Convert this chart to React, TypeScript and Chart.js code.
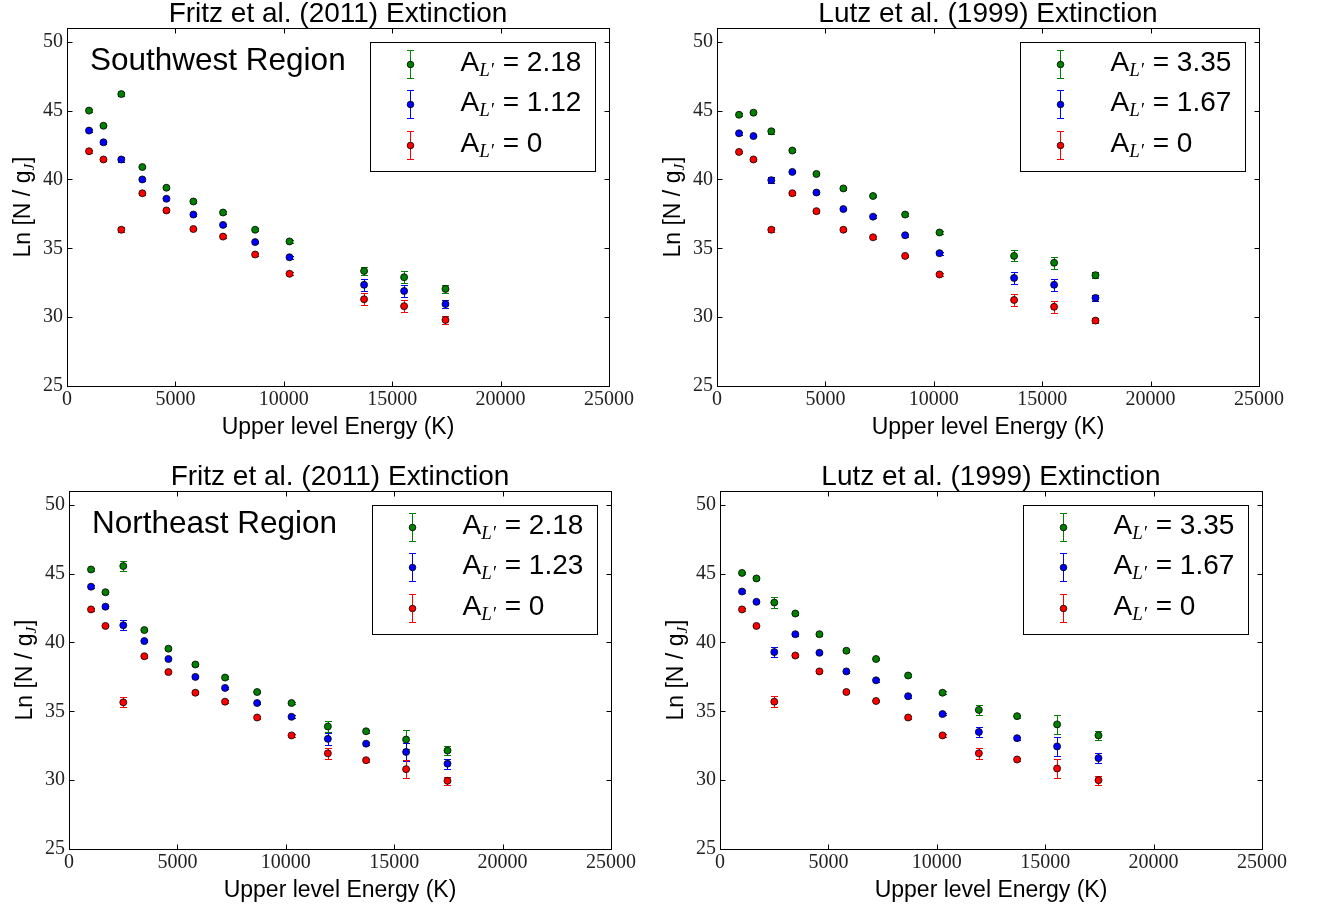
import React, { useEffect, useRef } from "react";
import { Chart, registerables } from "chart.js";

Chart.register(...registerables);

// ---------- data ----------
const energiesTop = [1015, 1682, 2504, 3474, 4586, 5829, 7197, 8677, 10263, 13703, 15549, 17458];
const energiesBottom = [1015, 1682, 2504, 3474, 4586, 5829, 7197, 8677, 10263, 11940, 13703, 15549, 17458];

const xTickValues = [0, 5000, 10000, 15000, 20000, 25000];
const yTickValues = [25, 30, 35, 40, 45, 50];

// Panel 1: Southwest, Fritz et al. (2011)
const swFritzHigh = [45.0, 43.9, 46.2, 40.9, 39.4, 38.4, 37.6, 36.35, 35.5, 33.35, 32.9, 32.05];
const swFritzMid = [43.55, 42.7, 41.45, 40.0, 38.6, 37.45, 36.7, 35.45, 34.35, 32.35, 31.9, 30.95];
const swFritzZero = [42.05, 41.45, 36.35, 39.0, 37.75, 36.4, 35.85, 34.55, 33.15, 31.3, 30.8, 29.8];
const swFritzHighErr = [0.1, 0.1, 0.15, 0.1, 0.1, 0.1, 0.1, 0.1, 0.1, 0.27, 0.42, 0.27];
const swFritzMidErr = [0.1, 0.1, 0.2, 0.1, 0.1, 0.1, 0.1, 0.1, 0.1, 0.42, 0.43, 0.3];
const swFritzZeroErr = [0.1, 0.1, 0.2, 0.1, 0.1, 0.1, 0.1, 0.1, 0.1, 0.42, 0.42, 0.3];

// Panel 2: Southwest, Lutz et al. (1999)
const swLutzHigh = [44.7, 44.85, 43.5, 42.1, 40.4, 39.35, 38.8, 37.45, 36.15, 34.45, 33.95, 33.05];
const swLutzMid = [43.35, 43.15, 39.95, 40.55, 39.05, 37.85, 37.3, 35.95, 34.65, 32.85, 32.35, 31.4];
const swLutzZero = [42.0, 41.45, 36.35, 39.0, 37.7, 36.35, 35.8, 34.45, 33.1, 31.25, 30.75, 29.75];
const swLutzHighErr = [0.1, 0.1, 0.2, 0.1, 0.1, 0.1, 0.1, 0.1, 0.1, 0.4, 0.43, 0.22];
const swLutzMidErr = [0.1, 0.1, 0.2, 0.1, 0.1, 0.1, 0.1, 0.1, 0.1, 0.42, 0.42, 0.2];
const swLutzZeroErr = [0.1, 0.1, 0.2, 0.1, 0.1, 0.1, 0.1, 0.1, 0.1, 0.42, 0.42, 0.2];

// Panel 3: Northeast, Fritz et al. (2011)
const neFritzHigh = [45.3, 43.65, 45.55, 40.9, 39.55, 38.4, 37.45, 36.4, 35.6, 33.9, 33.55, 32.95, 32.15];
const neFritzMid = [44.05, 42.6, 41.25, 40.1, 38.8, 37.5, 36.7, 35.6, 34.6, 33.0, 32.65, 32.05, 31.2];
const neFritzZero = [42.4, 41.2, 35.65, 39.0, 37.85, 36.35, 35.7, 34.55, 33.25, 31.95, 31.45, 30.8, 29.95];
const neFritzHighErr = [0.1, 0.1, 0.36, 0.1, 0.1, 0.1, 0.1, 0.1, 0.1, 0.37, 0.1, 0.68, 0.34];
const neFritzMidErr = [0.1, 0.1, 0.37, 0.1, 0.1, 0.1, 0.1, 0.1, 0.1, 0.42, 0.1, 0.63, 0.37];
const neFritzZeroErr = [0.1, 0.1, 0.36, 0.1, 0.1, 0.1, 0.1, 0.1, 0.1, 0.41, 0.1, 0.66, 0.3];

// Panel 4: Northeast, Lutz et al. (1999)
const neLutzHigh = [45.05, 44.65, 42.9, 42.1, 40.6, 39.4, 38.8, 37.6, 36.35, 35.1, 34.65, 34.05, 33.25];
const neLutzMid = [43.7, 42.95, 39.3, 40.6, 39.25, 37.9, 37.25, 36.1, 34.8, 33.5, 33.05, 32.45, 31.6];
const neLutzZero = [42.4, 41.2, 35.7, 39.05, 37.9, 36.4, 35.75, 34.55, 33.25, 31.95, 31.5, 30.85, 30.0];
const neLutzHighErr = [0.1, 0.1, 0.43, 0.1, 0.1, 0.1, 0.1, 0.1, 0.1, 0.39, 0.1, 0.68, 0.32];
const neLutzMidErr = [0.1, 0.1, 0.39, 0.1, 0.1, 0.1, 0.1, 0.1, 0.1, 0.36, 0.1, 0.67, 0.36];
const neLutzZeroErr = [0.1, 0.1, 0.39, 0.1, 0.1, 0.1, 0.1, 0.1, 0.1, 0.4, 0.1, 0.68, 0.32];

const legendFritzSW = ["2.18", "1.12", "0"];
const legendLutzSW = ["3.35", "1.67", "0"];
const legendFritzNE = ["2.18", "1.23", "0"];
const legendLutzNE = ["3.35", "1.67", "0"];

const titleFritz = "Fritz et al. (2011) Extinction";
const titleLutz = "Lutz et al. (1999) Extinction";
const xAxisTitle = "Upper level Energy (K)";

const GREEN = "#007f00";
const BLUE = "#0000ff";
const RED = "#ff0000";

const SANS = "'Liberation Sans', Arial, sans-serif";
const SERIF = "'Liberation Serif', 'DejaVu Serif', serif";

type Series = { color: string; values: number[]; errors: number[] };

type PanelProps = {
  left: number;
  top: number;
  title: string;
  energies: number[];
  series: Series[];
  legendVals: string[];
  region?: string;
};

const PLOT_W = 542;
const PLOT_H = 358;
const Y_AXIS_W = 67;
const TITLE_H = 28;
const X_AXIS_H = 55;
const PAD_RIGHT = 41;
const PAD_BOTTOM = 7;
const CANVAS_W = Y_AXIS_W + PLOT_W + PAD_RIGHT;
const CANVAS_H = TITLE_H + PLOT_H + X_AXIS_H + PAD_BOTTOM;

const half = (v: number) => Math.round(v) + 0.5;

function Panel({ left, top, title, energies, series, legendVals, region }: PanelProps) {
  const ref = useRef<HTMLCanvasElement | null>(null);

  useEffect(() => {
    if (!ref.current) return;

    const custom = {
      id: "customDraw",
      beforeDatasetsDraw(chart: any) {
        const ctx = chart.ctx;
        const xs = chart.scales.x;
        const ys = chart.scales.y;
        ctx.save();
        ctx.lineWidth = 1;
        series.forEach((s) => {
          ctx.strokeStyle = s.color;
          s.values.forEach((v, j) => {
            const e = s.errors[j];
            const x = half(xs.getPixelForValue(energies[j]));
            const y1 = half(ys.getPixelForValue(v + e));
            const y2 = half(ys.getPixelForValue(v - e));
            ctx.beginPath();
            ctx.moveTo(x, y1);
            ctx.lineTo(x, y2);
            ctx.moveTo(x - 3.5, y1);
            ctx.lineTo(x + 3.5, y1);
            ctx.moveTo(x - 3.5, y2);
            ctx.lineTo(x + 3.5, y2);
            ctx.stroke();
          });
        });
        ctx.restore();
      },
      afterDraw(chart: any) {
        const ctx = chart.ctx;
        const a = chart.chartArea;
        const xs = chart.scales.x;
        const ys = chart.scales.y;
        const L = half(a.left);
        const R = half(a.right);
        const T = half(a.top);
        const B = half(a.bottom);
        ctx.save();
        // frame
        ctx.strokeStyle = "#000";
        ctx.lineWidth = 1;
        ctx.strokeRect(L, T, R - L, B - T);
        // inward ticks on all four sides
        ctx.beginPath();
        xTickValues.forEach((v) => {
          const x = half(xs.getPixelForValue(v));
          ctx.moveTo(x, B);
          ctx.lineTo(x, B - 5);
          ctx.moveTo(x, T);
          ctx.lineTo(x, T + 5);
        });
        yTickValues.forEach((v) => {
          const y = half(ys.getPixelForValue(v));
          ctx.moveTo(L, y);
          ctx.lineTo(L + 5, y);
          ctx.moveTo(R, y);
          ctx.lineTo(R - 5, y);
        });
        ctx.stroke();

        // y axis title with subscript
        ctx.save();
        ctx.translate(a.left - 37, (a.top + a.bottom) / 2);
        ctx.rotate(-Math.PI / 2);
        ctx.fillStyle = "#000";
        ctx.textBaseline = "alphabetic";
        const mainFont = `23px ${SANS}`;
        const subFont = `italic 15px ${SERIF}`;
        ctx.font = mainFont;
        const p1 = "Ln [N / g";
        const p3 = "]";
        const w1 = ctx.measureText(p1).width;
        const w3 = ctx.measureText(p3).width;
        ctx.font = subFont;
        const p2 = "J";
        const w2 = ctx.measureText(p2).width + 1;
        const total = w1 + w2 + w3;
        let cx = -total / 2;
        ctx.font = mainFont;
        ctx.fillText(p1, cx, 0);
        cx += w1;
        ctx.font = subFont;
        ctx.fillText(p2, cx, 4);
        cx += w2;
        ctx.font = mainFont;
        ctx.fillText(p3, cx, 0);
        ctx.restore();

        // region label
        if (region) {
          ctx.fillStyle = "#000";
          ctx.font = `31.5px ${SANS}`;
          ctx.textBaseline = "alphabetic";
          ctx.fillText(region, a.left + 23, a.top + 42);
        }

        // legend box
        const bw = 225;
        const bh = 129;
        const bx = half(a.right - 14 - bw);
        const by = half(a.top + 14);
        ctx.fillStyle = "#fff";
        ctx.fillRect(bx, by, bw, bh);
        ctx.strokeStyle = "#000";
        ctx.lineWidth = 1;
        ctx.strokeRect(bx, by, bw, bh);
        const rowY = [21, 61, 102];
        series.forEach((s, i) => {
          const mx = Math.round(bx + 39) + 0.5;
          const my = Math.round(by + rowY[i]) + 0.5;
          ctx.lineWidth = 1;
          ctx.strokeStyle = s.color;
          ctx.beginPath();
          ctx.moveTo(mx, my - 14);
          ctx.lineTo(mx, my + 14);
          ctx.moveTo(mx - 3.5, my - 14);
          ctx.lineTo(mx + 3.5, my - 14);
          ctx.moveTo(mx - 3.5, my + 14);
          ctx.lineTo(mx + 3.5, my + 14);
          ctx.stroke();
          ctx.beginPath();
          ctx.arc(mx, my, 3.3, 0, Math.PI * 2);
          ctx.fillStyle = s.color;
          ctx.fill();
          ctx.strokeStyle = "#000";
          ctx.lineWidth = 0.8;
          ctx.stroke();

          // label: A_{L'} = value
          let tx = bx + 90;
          const base = my + 6;
          ctx.fillStyle = "#000";
          ctx.textBaseline = "alphabetic";
          ctx.font = `28px ${SANS}`;
          ctx.fillText("A", tx, base);
          tx += ctx.measureText("A").width;
          ctx.font = `italic 19px ${SERIF}`;
          ctx.fillText("L\u2032", tx, base + 5);
          tx += ctx.measureText("L\u2032").width + 1;
          ctx.font = `28px ${SANS}`;
          ctx.fillText(" = " + legendVals[i], tx, base);
        });
        ctx.restore();
      },
    };

    const chart = new Chart(ref.current, {
      type: "scatter",
      data: {
        datasets: series
          .slice()
          .reverse()
          .map((s) => ({
            label: s.color,
            data: s.values.map((v, j) => ({ x: energies[j], y: v })),
            backgroundColor: s.color,
            borderColor: "#000",
            pointBorderColor: "#000",
            pointBackgroundColor: s.color,
            pointRadius: 3.5,
            pointBorderWidth: 0.8,
            pointHoverRadius: 3.5,
            showLine: false,
          })),
      },
      options: {
        responsive: false,
        animation: false,
        events: [],
        layout: { padding: { left: 0, top: 0, right: PAD_RIGHT, bottom: PAD_BOTTOM } },
        plugins: {
          legend: { display: false },
          tooltip: { enabled: false },
          title: {
            display: true,
            fullSize: false,
            text: title,
            color: "#000",
            font: { family: SANS, size: 28, weight: "normal", lineHeight: TITLE_H / 28 },
            padding: 0,
          },
        },
        scales: {
          x: {
            type: "linear",
            min: 0,
            max: 25000,
            afterBuildTicks: (scale: any) => {
              scale.ticks = xTickValues.map((v) => ({ value: v }));
            },
            afterFit: (scale: any) => {
              scale.height = X_AXIS_H;
            },
            grid: { display: false, drawTicks: false },
            border: { display: false },
            ticks: {
              color: "#222",
              padding: 2,
              maxRotation: 0,
              autoSkip: false,
              font: { family: SERIF, size: 20 },
              callback: (v: any) => String(v),
            },
            title: {
              display: true,
              text: xAxisTitle,
              color: "#000",
              font: { family: SANS, size: 23 },
              padding: { top: 0, bottom: 0 },
            },
          },
          y: {
            type: "linear",
            min: 25,
            max: 51,
            afterBuildTicks: (scale: any) => {
              scale.ticks = yTickValues.map((v) => ({ value: v }));
            },
            afterFit: (scale: any) => {
              scale.width = Y_AXIS_W;
            },
            grid: { display: false, drawTicks: false },
            border: { display: false },
            ticks: {
              color: "#222",
              padding: 4,
              autoSkip: false,
              font: { family: SERIF, size: 20 },
              callback: (v: any) => String(v),
            },
          },
        },
      },
      plugins: [custom],
    } as any);

    return () => chart.destroy();
  }, []);

  return (
    <canvas
      ref={ref}
      width={CANVAS_W}
      height={CANVAS_H}
      style={{
        position: "absolute",
        left: left - Y_AXIS_W,
        top: top - TITLE_H,
        width: CANVAS_W,
        height: CANVAS_H,
      }}
    />
  );
}

export default function App() {
  return (
    <div
      style={{
        position: "absolute",
        left: 0,
        top: 0,
        width: 1319,
        height: 911,
        overflow: "hidden",
        background: "#fff",
      }}
    >
      <Panel
        left={67}
        top={28}
        title={titleFritz}
        energies={energiesTop}
        region="Southwest Region"
        legendVals={legendFritzSW}
        series={[
          { color: GREEN, values: swFritzHigh, errors: swFritzHighErr },
          { color: BLUE, values: swFritzMid, errors: swFritzMidErr },
          { color: RED, values: swFritzZero, errors: swFritzZeroErr },
        ]}
      />
      <Panel
        left={717}
        top={28}
        title={titleLutz}
        energies={energiesTop}
        legendVals={legendLutzSW}
        series={[
          { color: GREEN, values: swLutzHigh, errors: swLutzHighErr },
          { color: BLUE, values: swLutzMid, errors: swLutzMidErr },
          { color: RED, values: swLutzZero, errors: swLutzZeroErr },
        ]}
      />
      <Panel
        left={69}
        top={491}
        title={titleFritz}
        energies={energiesBottom}
        region="Northeast Region"
        legendVals={legendFritzNE}
        series={[
          { color: GREEN, values: neFritzHigh, errors: neFritzHighErr },
          { color: BLUE, values: neFritzMid, errors: neFritzMidErr },
          { color: RED, values: neFritzZero, errors: neFritzZeroErr },
        ]}
      />
      <Panel
        left={720}
        top={491}
        title={titleLutz}
        energies={energiesBottom}
        legendVals={legendLutzNE}
        series={[
          { color: GREEN, values: neLutzHigh, errors: neLutzHighErr },
          { color: BLUE, values: neLutzMid, errors: neLutzMidErr },
          { color: RED, values: neLutzZero, errors: neLutzZeroErr },
        ]}
      />
    </div>
  );
}
